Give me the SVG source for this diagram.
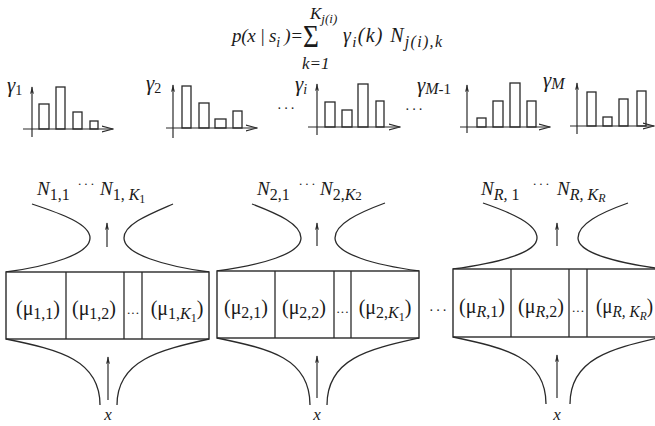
<svg xmlns="http://www.w3.org/2000/svg" width="655" height="426" viewBox="0 0 655 426">
<style>
.ln{fill:none;stroke:#2a2a2a;stroke-width:1.3}
.bar{fill:#fff;stroke:#2a2a2a;stroke-width:1.3}
.box{fill:#fff;stroke:#2a2a2a;stroke-width:1.4}
.t{font-family:"Liberation Serif","Times New Roman",serif;fill:#1a1a1a}
.it{font-style:italic}
.up{font-style:normal}
.ax{fill:none;stroke:#2a2a2a;stroke-width:1.2}
</style>
<defs>
<marker id="ah" viewBox="0 0 10 10" refX="9" refY="5" markerWidth="8" markerHeight="8" orient="auto" markerUnits="userSpaceOnUse">
<path d="M0,2.5 L10,5 L0,7.5 L2.5,5 z" fill="#2a2a2a"/>
</marker>
<marker id="ch" viewBox="0 0 12 8" refX="11.5" refY="4" markerWidth="12" markerHeight="8" orient="auto" markerUnits="userSpaceOnUse">
<path d="M0,1 L11.5,4 L0,7" fill="none" stroke="#2a2a2a" stroke-width="1.1"/>
</marker>
</defs>
<rect width="655" height="426" fill="#fff"/>

<g id="formula" class="t it">
<text x="232" y="42" font-size="19" textLength="71" lengthAdjust="spacing">p(x | s<tspan font-size="14" dy="5">i</tspan><tspan dy="-5"> )=</tspan></text>
<text transform="translate(303,47) scale(1.05,1.25)" font-size="26" class="up">Σ</text>
<text x="310" y="19" font-size="17">K<tspan font-size="13" dy="4">j(i)</tspan></text>
<text x="302" y="69" font-size="17">k=1</text>
<text x="343" y="42" font-size="20" textLength="99" lengthAdjust="spacing">γ<tspan font-size="15" dy="5">i</tspan><tspan dy="-5">(k) N</tspan><tspan font-size="16" dy="5">j(i),k</tspan></text>
</g>

<g id="hist1">
<text class="t it" x="7" y="92" font-size="21">γ<tspan font-size="14" dy="3" class="up">1</tspan></text>
<rect class="bar" x="39" y="104" width="10" height="25"/>
<rect class="bar" x="56" y="87" width="9" height="42"/>
<rect class="bar" x="73" y="112" width="9" height="17"/>
<rect class="bar" x="90" y="121" width="8" height="8"/>
<line class="ax" x1="32" y1="137" x2="32" y2="87" marker-end="url(#ah)"/>
<line class="ax" x1="23" y1="129" x2="113" y2="129" marker-end="url(#ch)"/>
</g>
<g id="hist2">
<text class="t it" x="146" y="90" font-size="21">γ<tspan font-size="14" dy="3" class="up">2</tspan></text>
<rect class="bar" x="182" y="86" width="9" height="42"/>
<rect class="bar" x="199" y="103" width="10" height="25"/>
<rect class="bar" x="215" y="119" width="11" height="9"/>
<rect class="bar" x="233" y="111" width="9" height="17"/>
<line class="ax" x1="173" y1="138" x2="173" y2="85" marker-end="url(#ah)"/>
<line class="ax" x1="166" y1="128" x2="257" y2="128" marker-end="url(#ch)"/>
</g>
<text class="t" x="287" y="113" font-size="14" text-anchor="middle" letter-spacing="2">···</text>
<g id="histi">
<text class="t it" x="295" y="91" font-size="21">γ<tspan font-size="14" dy="3">i</tspan></text>
<rect class="bar" x="325" y="102" width="10" height="25"/>
<rect class="bar" x="342" y="110" width="10" height="17"/>
<rect class="bar" x="358" y="84" width="10" height="43"/>
<rect class="bar" x="376" y="101" width="8" height="26"/>
<line class="ax" x1="317" y1="135" x2="317" y2="84" marker-end="url(#ah)"/>
<line class="ax" x1="308" y1="127" x2="400" y2="127" marker-end="url(#ch)"/>
</g>
<text class="t" x="415" y="114" font-size="14" text-anchor="middle" letter-spacing="2">···</text>
<g id="histM1">
<text class="t it" x="417" y="92" font-size="21">γ<tspan font-size="16" dy="2">M</tspan><tspan font-size="15" class="up">-1</tspan></text>
<rect class="bar" x="477" y="118" width="9" height="9"/>
<rect class="bar" x="493" y="101" width="10" height="26"/>
<rect class="bar" x="510" y="83" width="10" height="44"/>
<rect class="bar" x="527" y="101" width="9" height="26"/>
<line class="ax" x1="467" y1="133" x2="467" y2="85" marker-end="url(#ah)"/>
<line class="ax" x1="460" y1="127" x2="550" y2="127" marker-end="url(#ch)"/>
</g>
<g id="histM">
<text class="t it" x="543" y="87" font-size="21">γ<tspan font-size="16" dy="2">M</tspan></text>
<rect class="bar" x="587" y="92" width="9" height="34"/>
<rect class="bar" x="603" y="117" width="9" height="9"/>
<rect class="bar" x="619" y="99" width="9" height="27"/>
<rect class="bar" x="637" y="91" width="9" height="35"/>
<line class="ax" x1="577" y1="134" x2="577" y2="83" marker-end="url(#ah)"/>
<line class="ax" x1="570" y1="126" x2="654" y2="126" marker-end="url(#ch)"/>
</g>

<g id="block1">
<text class="t it" x="37" y="195" font-size="19">N<tspan class="up" font-size="16" dy="5">1,1</tspan></text>
<text class="t" x="87" y="188" font-size="13" text-anchor="middle" letter-spacing="2">···</text>
<text class="t it" x="100" y="195" font-size="19">N<tspan class="up" font-size="16" dy="5">1, </tspan><tspan font-size="16">K</tspan><tspan class="up" font-size="12" dy="3">1</tspan></text>
<path class="ln" d="M32,204 C62,214 90,224 90,238 C90,254 50,266 6,272"/>
<path class="ln" d="M173,204 C150,214 124,224 124,238 C124,254 164,266 209,272"/>
<rect class="box" x="6" y="272" width="203" height="67"/>
<line class="ln" x1="66" y1="272" x2="66" y2="339"/>
<line class="ln" x1="124" y1="272" x2="124" y2="339"/>
<line class="ln" x1="142" y1="272" x2="142" y2="339"/>
<text class="t" x="38" y="315" font-size="20" text-anchor="middle">(μ<tspan font-size="16" dy="4">1,1</tspan><tspan dy="-4">)</tspan></text>
<text class="t" x="94" y="315" font-size="20" text-anchor="middle">(μ<tspan font-size="16" dy="4">1,2</tspan><tspan dy="-4">)</tspan></text>
<text class="t" x="133" y="317" font-size="13" text-anchor="middle">···</text>
<text class="t" x="177" y="315" font-size="20" text-anchor="middle">(μ<tspan font-size="16" dy="4">1,</tspan><tspan font-size="16" class="it">K</tspan><tspan font-size="12" dy="3">1</tspan><tspan dy="-7">)</tspan></text>
<path class="ln" d="M6,339 C60,350 100,360 100,405"/>
<path class="ln" d="M209,339 C160,350 117,360 117,405"/>
<text class="t it" x="108" y="420" font-size="17" text-anchor="middle">x</text>
</g>

<g id="block2">
<text class="t it" x="257" y="195" font-size="19">N<tspan class="up" font-size="16" dy="5">2,1</tspan></text>
<text class="t" x="308" y="188" font-size="13" text-anchor="middle" letter-spacing="2">···</text>
<text class="t it" x="320" y="195" font-size="19">N<tspan class="up" font-size="16" dy="5">2,</tspan><tspan font-size="16">K</tspan><tspan class="up" font-size="13">2</tspan></text>
<path class="ln" d="M252,204 C278,214 301,224 301,238 C301,254 261,265 217,271"/>
<path class="ln" d="M385,203 C358,213 335,224 335,238 C335,254 375,265 419,271"/>
<rect class="box" x="217" y="271" width="202" height="67"/>
<line class="ln" x1="275" y1="271" x2="275" y2="338"/>
<line class="ln" x1="334" y1="271" x2="334" y2="338"/>
<line class="ln" x1="351" y1="271" x2="351" y2="338"/>
<text class="t" x="246" y="314" font-size="20" text-anchor="middle">(μ<tspan font-size="16" dy="4">2,1</tspan><tspan dy="-4">)</tspan></text>
<text class="t" x="304" y="314" font-size="20" text-anchor="middle">(μ<tspan font-size="16" dy="4">2,2</tspan><tspan dy="-4">)</tspan></text>
<text class="t" x="342.5" y="316" font-size="13" text-anchor="middle">···</text>
<text class="t" x="385" y="314" font-size="20" text-anchor="middle">(μ<tspan font-size="16" dy="4">2,</tspan><tspan font-size="16" class="it">K</tspan><tspan font-size="12" dy="3">1</tspan><tspan dy="-7">)</tspan></text>
<path class="ln" d="M217,338 C270,349 310,358 310,405"/>
<path class="ln" d="M419,338 C370,349 327,358 327,405"/>
<text class="t it" x="317" y="420" font-size="17" text-anchor="middle">x</text>
</g>

<text class="t" x="439" y="315" font-size="14" text-anchor="middle" letter-spacing="2">···</text>

<g id="block3">
<text class="t it" x="481" y="195" font-size="19">N<tspan font-size="16" dy="5">R,</tspan><tspan class="up" font-size="16"> 1</tspan></text>
<text class="t" x="542" y="188" font-size="13" text-anchor="middle" letter-spacing="2">···</text>
<text class="t it" x="557" y="195" font-size="19">N<tspan font-size="16" dy="5">R, K</tspan><tspan font-size="12" dy="2">R</tspan></text>
<path class="ln" d="M483,203 C512,213 537,224 537,238 C537,253 497,263 453,269"/>
<path class="ln" d="M628,203 C600,213 578,224 578,238 C578,253 618,263 662,269"/>
<rect class="box" x="453" y="269" width="210" height="68"/>
<line class="ln" x1="511" y1="269" x2="511" y2="337"/>
<line class="ln" x1="569" y1="269" x2="569" y2="337"/>
<line class="ln" x1="587" y1="269" x2="587" y2="337"/>
<text class="t" x="482" y="313" font-size="20" text-anchor="middle">(μ<tspan font-size="16" dy="4" class="it">R</tspan><tspan font-size="16">,1</tspan><tspan dy="-4">)</tspan></text>
<text class="t" x="541" y="313" font-size="20" text-anchor="middle">(μ<tspan font-size="16" dy="4" class="it">R</tspan><tspan font-size="16">,2</tspan><tspan dy="-4">)</tspan></text>
<text class="t" x="578" y="315" font-size="13" text-anchor="middle">···</text>
<text class="t" x="596" y="313" font-size="20" textLength="57" lengthAdjust="spacingAndGlyphs">(μ<tspan font-size="16" dy="4" class="it">R, K</tspan><tspan font-size="12" dy="3" class="it">R</tspan><tspan dy="-7">)</tspan></text>
<path class="ln" d="M453,337 C505,348 546,357 546,404"/>
<path class="ln" d="M662,337 C615,348 570,357 570,404"/>
<text class="t it" x="557" y="420" font-size="17" text-anchor="middle">x</text>
</g>

<g id="connectors">
<line class="ax" x1="107" y1="247" x2="107" y2="223" marker-end="url(#ah)"/>
<line class="ax" x1="317" y1="246" x2="317" y2="223" marker-end="url(#ah)"/>
<line class="ax" x1="557" y1="246" x2="557" y2="223" marker-end="url(#ah)"/>
<line class="ax" x1="108" y1="400" x2="108" y2="357" marker-end="url(#ah)"/>
<line class="ax" x1="317" y1="398" x2="317" y2="356" marker-end="url(#ah)"/>
<line class="ax" x1="557" y1="398" x2="557" y2="355" marker-end="url(#ah)"/>
</g>
</svg>
